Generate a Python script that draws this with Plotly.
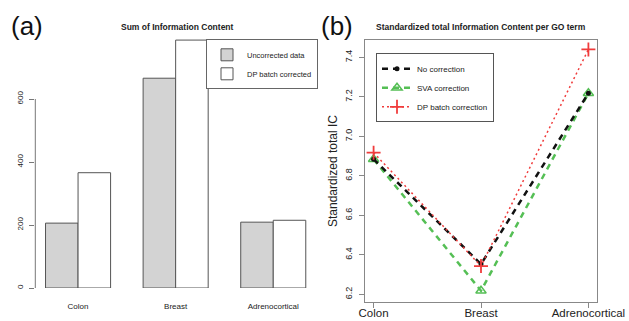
import plotly.graph_objects as go

W, H = 629, 321


def fx(p):
    return p / W


def fy(p):
    return 1 - p / H


FONT = "Liberation Sans, Arial, Helvetica, sans-serif"
TXT = "#222222"

# ---- data: panel (a) ----
cats_a = ["Colon", "Breast", "Adrenocortical"]
uncorrected = [206, 666, 209]
dp_batch_corrected = [366, 787, 215]
ticks_a = [0, 200, 400, 600]

# ---- data: panel (b) ----
cats_b = ["Colon", "Breast", "Adrenocortical"]
no_correction = [6.884, 6.353, 7.218]
sva_correction = [6.884, 6.218, 7.218]
dp_batch_correction = [6.917, 6.343, 7.44]
ticks_b = [6.2, 6.4, 6.6, 6.8, 7.0, 7.2, 7.4]

fig = go.Figure()

fig.add_trace(go.Bar(
    x=cats_a, y=uncorrected, name="Uncorrected data",
    marker=dict(color="#d3d3d3", line=dict(color="#555555", width=1)),
    xaxis="x", yaxis="y", legend="legend",
))
fig.add_trace(go.Bar(
    x=cats_a, y=dp_batch_corrected, name="DP batch corrected",
    marker=dict(color="#ffffff", line=dict(color="#555555", width=1)),
    xaxis="x", yaxis="y", legend="legend",
))

GREEN = "#55bf55"
RED = "#f03c3c"

fig.add_trace(go.Scatter(
    x=cats_b, y=sva_correction, name="SVA correction", mode="lines+markers",
    line=dict(color=GREEN, width=2.5, dash="6px,5px"),
    marker=dict(symbol="triangle-up-open", size=9, color=GREEN, line=dict(width=1.5, color=GREEN)),
    xaxis="x2", yaxis="y2", legend="legend2", legendrank=2,
))
fig.add_trace(go.Scatter(
    x=cats_b, y=no_correction, name="No correction", mode="lines+markers",
    line=dict(color="#111111", width=2.5, dash="6px,5px"),
    marker=dict(symbol="circle", size=5, color="#111111"),
    xaxis="x2", yaxis="y2", legend="legend2", legendrank=1,
))
fig.add_trace(go.Scatter(
    x=cats_b, y=dp_batch_correction, name="DP batch correction", mode="lines+markers",
    line=dict(color=RED, width=1.5, dash="2px,3px"),
    marker=dict(symbol="cross-thin", size=10, color=RED, line=dict(width=1.8, color=RED)),
    xaxis="x2", yaxis="y2", legend="legend2", legendrank=3,
))

fig.update_layout(
    width=W, height=H, autosize=False,
    margin=dict(l=0, r=0, t=0, b=0, pad=0, autoexpand=False),
    paper_bgcolor="white", plot_bgcolor="white",
    font=dict(family=FONT, color=TXT),
    barmode="group", bargap=1 / 3, bargroupgap=0,
    xaxis=dict(
        domain=[fx(35.3), fx(316)], anchor="y", type="category",
        range=[-0.438, 2.438], showline=False, showgrid=False, zeroline=False,
        ticks="", tickfont=dict(size=8, color=TXT), ticklabelstandoff=12,
    ),
    yaxis=dict(
        domain=[fy(288), fy(38)], anchor="x", range=[0, (288 - 38) / 0.315],
        tickvals=ticks_a, ticktext=[str(v) for v in ticks_a],
        ticks="outside", ticklen=5, tickcolor="#777777", tickangle=-90,
        tickfont=dict(size=8, color=TXT), showgrid=False, zeroline=False,
        showline=False, ticklabelstandoff=3,
    ),
    xaxis2=dict(
        domain=[fx(365), fx(597)], anchor="y2", type="category",
        range=[-0.08, 2.08], showline=True, mirror=True, linecolor="#888888",
        showgrid=False, zeroline=False, ticks="outside", ticklen=5,
        tickcolor="#888888", tickfont=dict(size=11.5, color=TXT),
        ticklabelstandoff=-5,
    ),
    yaxis2=dict(
        domain=[fy(302), fy(40)], anchor="x2", range=[6.161, 7.4876],
        tickvals=ticks_b, ticktext=["%.1f" % v for v in ticks_b],
        ticks="outside", ticklen=5, tickcolor="#888888", tickangle=-90,
        tickfont=dict(size=9, color=TXT), showline=True, mirror=True,
        linecolor="#888888", showgrid=False, zeroline=False, ticklabelstandoff=3,
        title=dict(text="Standardized total IC", font=dict(size=12, color=TXT), standoff=4),
    ),
    legend=dict(
        x=fx(318), xanchor="right", y=fy(39.3), yanchor="top",
        bordercolor="#666666", borderwidth=1, bgcolor="white",
        font=dict(size=7.5, color=TXT), tracegroupgap=0, traceorder="normal",
    ),
    legend2=dict(
        x=fx(376), xanchor="left", y=fy(53.3), yanchor="top",
        bordercolor="#555555", borderwidth=1, bgcolor="white",
        font=dict(size=8, color=TXT), tracegroupgap=0, traceorder="normal",
    ),
    shapes=[dict(
        type="line", xref="paper", yref="y", x0=fx(35.3), x1=fx(35.3),
        y0=ticks_a[0], y1=ticks_a[-1], line=dict(color="#777777", width=1),
    )],
    annotations=[
        dict(text="(a)", x=fx(26.5), y=fy(26), xref="paper", yref="paper",
             xanchor="center", yanchor="middle", showarrow=False,
             font=dict(size=26, color="#111111")),
        dict(text="(b)", x=fx(337), y=fy(26), xref="paper", yref="paper",
             xanchor="center", yanchor="middle", showarrow=False,
             font=dict(size=26, color="#111111")),
        dict(text="<b>Sum of Information Content</b>", x=fx(177), y=fy(27),
             xref="paper", yref="paper", xanchor="center", yanchor="middle",
             showarrow=False, font=dict(size=8.5, color=TXT)),
        dict(text="<b>Standardized total Information Content per GO term</b>",
             x=fx(481), y=fy(27), xref="paper", yref="paper",
             xanchor="center", yanchor="middle", showarrow=False,
             font=dict(size=8.5, color=TXT)),
    ],
)

fig.write_html(
    "out.html",
    config={"displayModeBar": False},
    post_script="document.body.style.margin='0';document.body.style.padding='0';",
)
